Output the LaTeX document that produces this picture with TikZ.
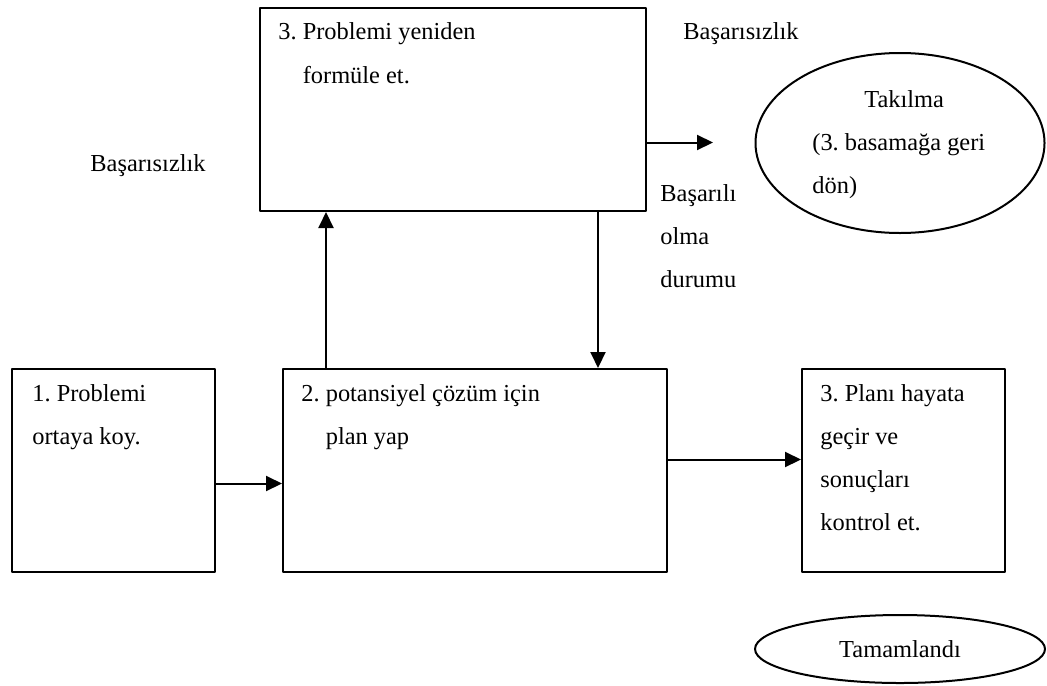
\documentclass[tikz,border=0pt]{standalone}
\usepackage{fontspec}
\setmainfont{Liberation Serif}
\frenchspacing
\usetikzlibrary{arrows.meta,shapes.geometric}

\begin{document}
\begin{tikzpicture}[line cap=round,line join=round,>={Triangle[length=8pt,width=7.5pt]},x=0.5pt,y=-0.5pt,
	box/.style={draw,line width=1pt,rectangle,inner sep=0pt,anchor=north west},
	oval/.style={draw,line width=1pt,ellipse,inner sep=0pt},
	txt/.style={anchor=base west,inner sep=0pt,align=left,font=\fontsize{12.2}{21.5}\selectfont},
	flow/.style={line width=1pt,->}]
	\useasboundingbox (0,0) rectangle (1047,685);
	% kutular
	\node[box,minimum width=193pt,minimum height=101.5pt] (reform) at (259,7) {};
	\node[box,minimum width=101.5pt,minimum height=101.5pt] (ask) at (11,368) {};
	\node[box,minimum width=192pt,minimum height=101.5pt] (plan) at (282,368) {};
	\node[box,minimum width=101.5pt,minimum height=101.5pt] (apply) at (801,368) {};
	\node[oval,minimum width=144.5pt,minimum height=90pt] (stuck) at (900,143) {};
	\node[oval,minimum width=145pt,minimum height=34pt,font=\fontsize{12.2}{21.5}\selectfont] (done) at (900,649) {Tamamlandı};
	% yazilar (base = son satir)
	\node[txt] (reformtxt) at (278,83) {3. Problemi yeniden\\\hspace*{1em}formüle et.};
	\node[txt] (asktxt) at (32,444) {1. Problemi\\ortaya koy.};
	\node[txt] (plantxt) at (301,444) {2. potansiyel çözüm için\\\hspace*{1em}plan yap};
	\node[txt] (applytxt) at (820,530) {3. Planı hayata\\geçir ve\\sonuçları\\kontrol et.};
	\node[txt] (stucktxt) at (812,193) {\hspace*{26pt}Takılma\\(3. basamağa geri\\dön)};
	\node[txt] (failA) at (683,39) {Başarısızlık};
	\node[txt] (failB) at (90,171) {Başarısızlık};
	\node[txt] (success) at (660,287) {Başarılı\\olma\\durumu};
	% oklar
	\coordinate (up) at ([xshift=22pt]plan.north west);
	\coordinate (down) at ([xshift=169.5pt]reform.south west);
	\coordinate (out) at ([yshift=-16.5pt]reform.east);
	\coordinate (fail) at ([xshift=33pt]out);
	\draw[flow] ([yshift=-6.5pt]ask.east) -- ([yshift=-6.5pt]plan.west);
	\draw[flow] ([yshift=5.5pt]plan.east) -- ([yshift=5.5pt]apply.west);
	\draw[flow] (up) -- (up |- reform.south);
	\draw[flow] (down) -- (down |- plan.north);
	\draw[flow] (out) -- (fail);
\end{tikzpicture}
\end{document}
